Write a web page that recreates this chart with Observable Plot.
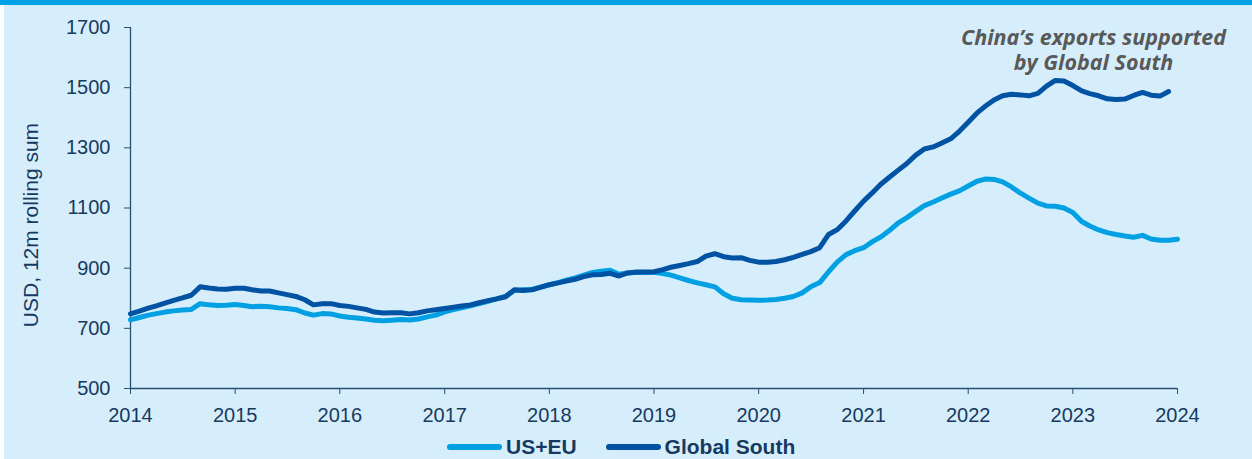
<!DOCTYPE html>
<html>
<head>
<meta charset="utf-8">
<script src="https://cdn.jsdelivr.net/npm/d3@7"></script>
<script src="https://cdn.jsdelivr.net/npm/@observablehq/plot@0.6"></script>
<style>
html, body { margin: 0; padding: 0; background: #ffffff; }
#wrap { position: relative; width: 1252px; height: 459px; overflow: hidden; background: #ffffff; }
#topbar { position: absolute; left: 0; top: 0; width: 1252px; height: 5px; background: #00A1E4; }
#panel { position: absolute; left: 4px; top: 5px; width: 1248px; height: 454px; background: #D6EEFC; }
#chart { position: absolute; left: 4px; top: 5px; }
#ylabel { position: absolute; left: -119px; top: 214px; width: 300px; height: 22px; line-height: 22px;
  text-align: center; transform: rotate(-90deg); transform-origin: 150px 11px;
  font-family: "Liberation Sans", Arial, sans-serif; font-size: 21px; color: #163A5F; white-space: nowrap; }
#legend { position: absolute; left: 447px; top: 439px; height: 16px; display: flex; align-items: center;
  font-family: "Liberation Sans", Arial, sans-serif; font-weight: bold; font-size: 21px; line-height: 16px; color: #163A5F; }
.item { display: flex; align-items: center; margin-right: 29px; }
.sw { width: 55px; height: 6px; border-radius: 3px; margin-right: 4px; }
</style>
</head>
<body>
<div id="wrap">
  <div id="topbar"></div>
  <div id="panel"></div>
  <div id="chart"></div>
  <div id="ylabel"></div>
  <div id="legend"></div>
</div>
<script>
// ---- data (monthly, 12m rolling sum, USD) ----
const seriesNames = ["US+EU", "Global South"];
const seriesColors = ["#00A0E3", "#0052A2"];
const yTicks = [500, 700, 900, 1100, 1300, 1500, 1700];
const xTickYears = [2014, 2015, 2016, 2017, 2018, 2019, 2020, 2021, 2022, 2023, 2024];
const yLabel = "USD, 12m rolling sum";
const note = "China\u2019s exports supported\nby Global South";

// US+EU: Jan 2014 .. Jan 2024
const usEu = [
  728, 736, 743, 749, 754, 758, 761, 763, 782, 778, 776, 777,
  779, 776, 772, 773, 772, 768, 766, 762, 751, 744, 749, 748,
  741, 737, 734, 731, 727, 725, 727, 729, 728, 731, 738, 744,
  755, 762, 768, 775, 782, 790, 798, 806, 826, 828, 829, 837,
  845, 852, 860, 868, 877, 886, 890, 893, 880, 884, 886, 886,
  886, 882, 877, 868, 859, 851, 845, 838, 815, 800, 795, 794,
  793, 794, 796, 800, 806, 818, 838, 852, 888, 920, 945, 958,
  968, 988, 1003, 1025, 1050, 1068, 1088, 1108, 1120, 1133, 1146, 1157,
  1173, 1189, 1196, 1195, 1187, 1170, 1150, 1133, 1116, 1107, 1106, 1100,
  1085, 1055, 1040, 1027, 1018, 1012, 1007, 1003, 1009, 997, 993, 993,
  996
];
// Global South: Jan 2014 .. Dec 2023
const globalSouth = [
  748, 757, 766, 775, 784, 793, 801, 810, 838, 834, 831, 830,
  833, 833, 828, 824, 824, 818, 812, 806, 795, 778, 782, 782,
  776, 773, 768, 763, 754, 751, 752, 752, 748, 752, 758, 762,
  766, 770, 774, 778, 785, 792, 798, 805, 828, 826, 828, 836,
  845, 851, 857, 863, 872, 878, 879, 883, 874, 884, 887, 887,
  888, 895, 903, 909, 915, 922, 940, 948, 938, 934, 935, 926,
  920, 920, 922, 928, 936, 946, 955, 968, 1012, 1028, 1057, 1090,
  1123, 1151, 1178, 1202, 1225, 1248, 1275, 1296, 1303, 1316, 1330, 1355,
  1385, 1416, 1438, 1459, 1473, 1478, 1476, 1473, 1481, 1505, 1524, 1522,
  1507, 1489, 1480, 1473, 1463, 1461, 1462, 1474, 1484, 1475, 1472, 1487
];

// ---- build table ----
const start = new Date(Date.UTC(2014, 0, 1));
const months = d3.utcMonth.range(start, new Date(Date.UTC(2024, 1, 1)));
const rows = [];
usEu.forEach((v, i) => rows.push({date: months[i], value: v, series: seriesNames[0]}));
globalSouth.forEach((v, i) => rows.push({date: months[i], value: v, series: seriesNames[1]}));
const xTicks = xTickYears.map(y => new Date(Date.UTC(y, 0, 1)));

const navy = "#163A5F";
const chart = Plot.plot({
  width: 1248,
  height: 420,
  marginLeft: 126,
  marginRight: 75,
  marginTop: 22,
  marginBottom: 37,
  style: {background: "transparent", fontFamily: "'Liberation Sans', Arial, sans-serif", fontSize: "20px", color: navy, overflow: "visible"},
  x: {type: "utc", domain: [xTicks[0], xTicks[xTicks.length - 1]], ticks: xTicks, tickFormat: d3.utcFormat("%Y"), tickSize: 6, tickPadding: 13, label: null},
  y: {domain: [yTicks[0], yTicks[yTicks.length - 1]], ticks: yTicks, tickFormat: d => String(d), tickSize: 6, tickPadding: 14, label: null},
  color: {domain: seriesNames, range: seriesColors},
  marks: [
    Plot.ruleY([yTicks[0]], {stroke: "#2B4F72", strokeWidth: 1.3}),
    Plot.ruleX([xTicks[0]], {stroke: "#2B4F72", strokeWidth: 1.3}),
    Plot.line(rows, {x: "date", y: "value", z: "series", stroke: "series", strokeWidth: 5, strokeLinejoin: "round", strokeLinecap: "round"}),
    Plot.text([note], {frameAnchor: "top-right", dx: -84, dy: -1, text: d => d, textAnchor: "middle", lineAnchor: "top",
      lineHeight: 1.19, fontFamily: "'Open Sans', sans-serif", fontWeight: "bold", fontStyle: "italic", fontSize: 21.5, fill: "#595959"})
  ]
});
chart.querySelectorAll("[aria-label='x-axis tick'] path, [aria-label='y-axis tick'] path").forEach(p => p.setAttribute("stroke", "#2B4F72"));
document.getElementById("chart").appendChild(chart);

document.getElementById("ylabel").textContent = yLabel;

const legend = document.getElementById("legend");
seriesNames.forEach((name, i) => {
  const item = document.createElement("div");
  item.className = "item";
  const sw = document.createElement("div");
  sw.className = "sw";
  sw.style.background = seriesColors[i];
  const t = document.createElement("span");
  t.textContent = name;
  item.appendChild(sw);
  item.appendChild(t);
  legend.appendChild(item);
});
</script>
</body>
</html>
